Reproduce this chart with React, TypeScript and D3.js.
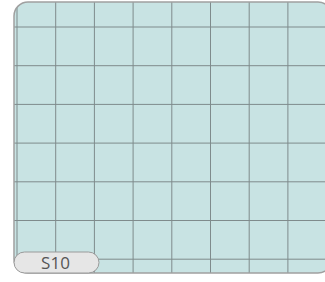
import React from "react";
import * as d3 from "d3";

// grid indices (columns / rows of the tile pattern)
const columns = [0, 1, 2, 3, 4, 5, 6, 7, 8];
const rows = [0, 1, 2, 3, 4, 5, 6];
const label = "S10";

const W = 325;
const H = 282;

export default function App() {
  const card = { x: 14, y: 2, w: 318, h: 271, r: 14 };

  const xScale = d3.scaleLinear().domain([0, 8]).range([17, 326.6]);
  const yScale = d3.scaleLinear().domain([0, 6]).range([27, 259.2]);

  return (
    <svg
      width={W}
      height={H}
      style={{ position: "absolute", left: 0, top: 0, background: "#fff" }}
    >
      <defs>
        <clipPath id="card-clip">
          <rect x={card.x} y={card.y} width={card.w} height={card.h} rx={card.r} />
        </clipPath>
      </defs>

      {/* card background */}
      <rect
        x={card.x}
        y={card.y}
        width={card.w}
        height={card.h}
        rx={card.r}
        fill="#c8e3e3"
      />

      {/* grid */}
      <g clipPath="url(#card-clip)" stroke="#7f8b8c" strokeWidth={1}>
        {columns.map((c) => (
          <line key={"c" + c} x1={xScale(c)} x2={xScale(c)} y1={card.y} y2={card.y + card.h} />
        ))}
        {rows.map((r) => (
          <line key={"r" + r} x1={card.x} x2={card.x + card.w} y1={yScale(r)} y2={yScale(r)} />
        ))}
      </g>

      {/* border */}
      <rect
        x={card.x}
        y={card.y}
        width={card.w}
        height={card.h}
        rx={card.r}
        fill="none"
        stroke="#a0a0a0"
        strokeWidth={1.5}
      />

      {/* label pill */}
      <rect x={14} y={252} width={85} height={21} rx={10.5} fill="#e6e6e6" stroke="#9a9a9a" strokeWidth={1} />
      <text
        x={55.5}
        y={269}
        textAnchor="middle"
        fontFamily="'Open Sans', sans-serif"
        fontSize={17}
        fill="#555"
      >
        {label}
      </text>
    </svg>
  );
}
